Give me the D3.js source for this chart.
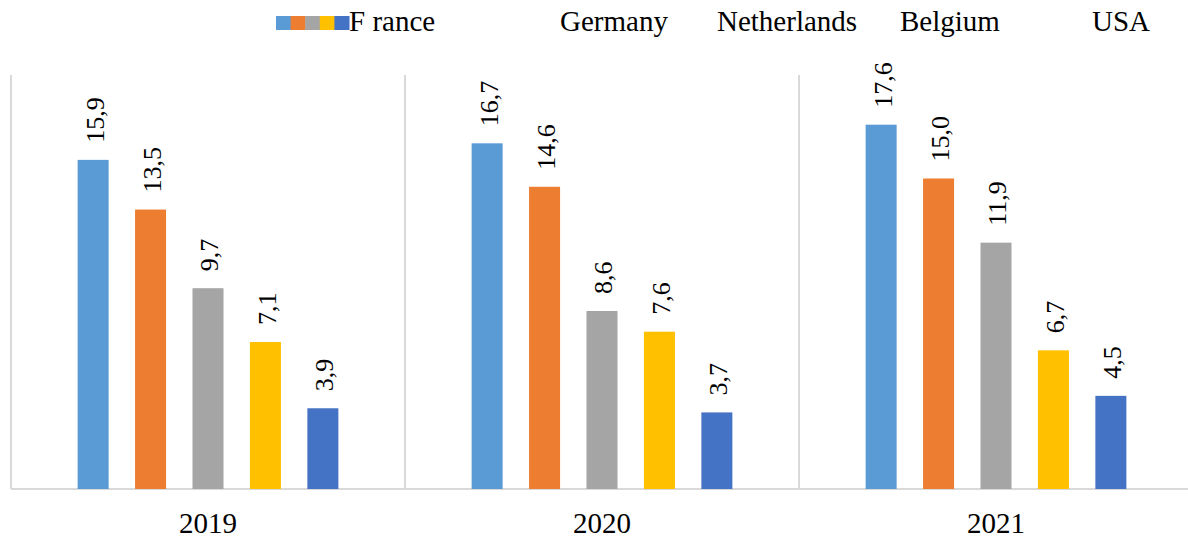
<!DOCTYPE html>
<html>
    <head>
        <title>Bar chart by country and year</title>
        <script src="https://d3js.org/d3.v7.min.js"></script>
        <style>
            body {
                margin: 0;
                background-color: white;
            }

            #myCanvas text {
                font-family: "Liberation Serif", "Times New Roman", serif;
            }
        </style>
    </head>

    <body>
        <svg id="myCanvas" width="1188" height="538"></svg>

        <script>
            // data
            var years = ["2019", "2020", "2021"];
            var countries = ["France", "Germany", "Netherlands", "Belgium", "USA"];
            var legendLabels = ["F rance", "Germany", "Netherlands", "Belgium", "USA"];
            var france = [15.9, 16.7, 17.6];
            var germany = [13.5, 14.6, 15.0];
            var netherlands = [9.7, 8.6, 11.9];
            var belgium = [7.1, 7.6, 6.7];
            var usa = [3.9, 3.7, 4.5];

            var series = [france, germany, netherlands, belgium, usa];
            var colors = ["#5B9BD5", "#ED7D31", "#A5A5A5", "#FFC000", "#4472C4"];

            var svg = d3.select("#myCanvas");

            // note: "top" is taken by window.top, so plotTop
            var plotLeft = 11, plotTop = 75, plotBottom = 489, catWidth = 394;

            var x = d3.scaleBand(years, [plotLeft, plotLeft + catWidth * years.length]);
            var xs = d3.scaleBand(countries, [0, catWidth])
                .paddingInner(0.46)
                .paddingOuter(1.16);
            var y = d3.scaleLinear([0, 20], [plotBottom, plotTop]);
            var color = d3.scaleOrdinal(countries, colors);

            // axis and category separators
            var grid = "#d9d9d9";
            svg.append("line")
                .attr("x1", plotLeft).attr("x2", 1188)
                .attr("y1", plotBottom).attr("y2", plotBottom)
                .attr("stroke", grid).attr("stroke-width", 2);

            svg.selectAll("line.sep")
                .data(years)
                .join("line")
                .attr("class", "sep")
                .attr("x1", d => x(d)).attr("x2", d => x(d))
                .attr("y1", plotTop).attr("y2", plotBottom)
                .attr("stroke", grid).attr("stroke-width", 2);

            // bars
            var rows = [];
            years.forEach((yr, i) => {
                countries.forEach((c, j) => {
                    rows.push({year: yr, country: c, value: series[j][i]});
                });
            });

            svg.selectAll("rect.bar")
                .data(rows)
                .join("rect")
                .attr("class", "bar")
                .attr("x", d => x(d.year) + xs(d.country))
                .attr("y", d => y(d.value))
                .attr("width", xs.bandwidth())
                .attr("height", d => y(0) - y(d.value))
                .attr("fill", d => color(d.country));

            // value labels, rotated
            svg.selectAll("text.val")
                .data(rows)
                .join("text")
                .attr("class", "val")
                .attr("transform", d => "translate(" + (x(d.year) + xs(d.country) + xs.bandwidth() / 2) +
                    "," + (y(d.value) - 17) + ") rotate(-90)")
                .attr("dy", "0.4em")
                .attr("font-family", "Liberation Serif")
                .attr("font-size", "26px")
                .attr("fill", "#000")
                .text(d => d.value.toFixed(1).replace(".", ","));

            // category labels
            svg.selectAll("text.cat")
                .data(years)
                .join("text")
                .attr("class", "cat")
                .attr("x", d => x(d) + catWidth / 2)
                .attr("y", 533)
                .attr("text-anchor", "middle")
                .attr("font-size", "29px")
                .text(d => d);

            // legend
            var sw = d3.scaleBand(countries, [276, 349]);
            svg.selectAll("rect.leg")
                .data(countries)
                .join("rect")
                .attr("class", "leg")
                .attr("x", d => sw(d))
                .attr("y", 16)
                .attr("width", sw.bandwidth() + 0.5)
                .attr("height", 14)
                .attr("fill", d => color(d));

            var legendX = [349, 560, 717, 900, 1092];
            svg.selectAll("text.leg")
                .data(legendLabels)
                .join("text")
                .attr("class", "leg")
                .attr("x", (d, i) => legendX[i])
                .attr("y", 31)
                .attr("font-size", "29px")
                .text(d => d);
        </script>
    </body>
</html>
